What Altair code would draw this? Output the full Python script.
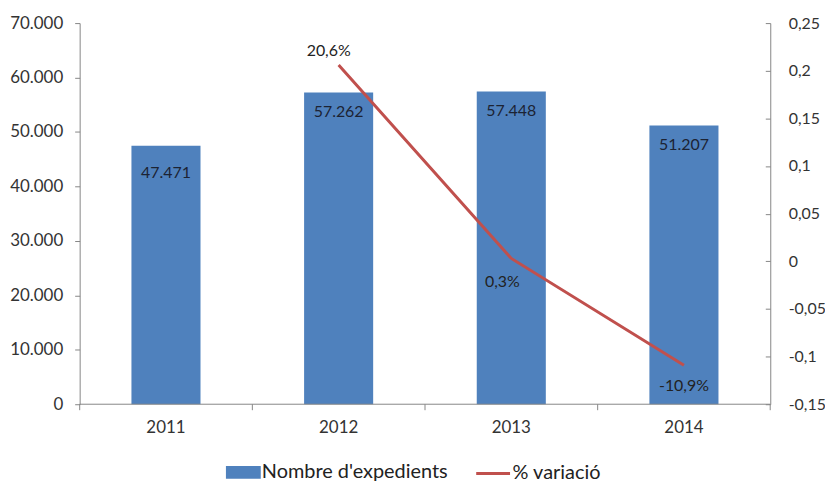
import altair as alt
import pandas as pd

years = ["2011", "2012", "2013", "2014"]
expedients = [47471, 57262, 57448, 51207]
variacio = [None, 0.206, 0.003, -0.109]
series_names = ["Nombre d'expedients", "% variació"]

bar_labels = [f"{v:,}".replace(",", ".") for v in expedients]
var_labels = ["" if v is None else f"{v*100:.1f}%".replace(".", ",") for v in variacio]

df = pd.DataFrame({"any": years, "exp": expedients, "var": variacio,
                   "exp_lbl": bar_labels, "var_lbl": var_labels,
                   "s1": [series_names[0]] * 4, "s2": [series_names[1]] * 4})

FONT = "Lato"
BLUE = "#4F81BD"
RED = "#C0504D"
AXC = "#868686"
TXT = "#333333"

W, H = 694, 383

base = alt.Chart(df)
xs = alt.Scale(paddingInner=0.6, paddingOuter=0.3)

yleft = alt.Scale(domain=[0, 70000], nice=False, zero=True)
yright = alt.Scale(domain=[-0.15, 0.25], nice=False, zero=False)

bars = base.mark_bar(color=BLUE).encode(
    x=alt.X("any:N", scale=xs, axis=None),
    y=alt.Y("exp:Q", scale=yleft,
            axis=alt.Axis(title=None, values=[0, 10000, 20000, 30000, 40000, 50000, 60000, 70000],
                          labelExpr="replace(format(datum.value, ','), ',', '.')",
                          tickSize=5, labelPadding=12, grid=False, labelFontSize=17)),
    color=alt.Color("s1:N",
                    scale=alt.Scale(domain=[series_names[0]], range=[BLUE]),
                    legend=alt.Legend(title=None, orient="none", legendX=147, legendY=434,
                                      symbolType="M-1,-0.36H1V0.36H-1Z", symbolSize=1225,
                                      symbolStrokeWidth=0, labelOffset=1, labelLimit=400)),
)

# category axis: base line, separator ticks and year labels
baseline = base.transform_filter("datum.any == '2011'").mark_rule(color=AXC, strokeWidth=1).encode(
    x=alt.value(0), x2=alt.value(W), y=alt.value(H),
)
sep_ticks = base.mark_rule(color=AXC, strokeWidth=1, xOffset=-52).encode(
    x=alt.X("any:N", scale=xs, bandPosition=0, axis=None),
    y=alt.value(H), y2=alt.value(H + 6),
)
sep_last = base.transform_filter("datum.any == '2014'").mark_rule(color=AXC, strokeWidth=1, xOffset=52).encode(
    x=alt.X("any:N", scale=xs, bandPosition=1, axis=None),
    y=alt.value(H), y2=alt.value(H + 6),
)
year_txt = base.mark_text(fontSize=17, font=FONT, color=TXT, baseline="middle", align="center").encode(
    x=alt.X("any:N", scale=xs, axis=None),
    y=alt.value(H + 24),
    text="any:N",
)

bl_common = dict(fontSize=16, font=FONT, color="#1c2333", baseline="middle", align="center")
bar_txt1 = base.transform_filter("datum.any == '2011'").mark_text(dy=27, **bl_common).encode(
    x=alt.X("any:N", scale=xs, axis=None),
    y=alt.Y("exp:Q", scale=yleft, axis=None),
    text="exp_lbl:N",
)
bar_txt2 = base.transform_filter("datum.any != '2011'").mark_text(dy=20, **bl_common).encode(
    x=alt.X("any:N", scale=xs, axis=None),
    y=alt.Y("exp:Q", scale=yleft, axis=None),
    text="exp_lbl:N",
)

line_base = base.transform_filter("isValid(datum.var)")
line = line_base.mark_line(strokeWidth=3).encode(
    x=alt.X("any:N", scale=xs, axis=None),
    y=alt.Y("var:Q", scale=yright,
            axis=alt.Axis(title=None, orient="left", offset=-W,
                          values=[-0.15, -0.1, -0.05, 0, 0.05, 0.1, 0.15, 0.2, 0.25],
                          labelExpr="replace(replace(format(datum.value, '.2~f'), '.', ','), '\u2212', '-')",
                          tickSize=5, labelPadding=-23, labelAlign="left", grid=False)),
    stroke=alt.Stroke("s2:N",
                      scale=alt.Scale(domain=[series_names[1]], range=[RED]),
                      legend=alt.Legend(title=None, orient="none", legendX=397, legendY=434,
                                        symbolType="stroke", symbolSize=1156,
                                        symbolStrokeWidth=3, labelOffset=1, labelLimit=400)),
)

ll_common = dict(fontSize=16, font=FONT, color="#222222", baseline="middle", align="center")
offsets = {"2012": (-10, -14), "2013": (-9, 24), "2014": (0, 21)}
line_txts = []
for yr, (dx, dy) in offsets.items():
    line_txts.append(
        line_base.transform_filter(f"datum.any == '{yr}'").mark_text(dx=dx, dy=dy, **ll_common).encode(
            x=alt.X("any:N", scale=xs, axis=None),
            y=alt.Y("var:Q", scale=yright, axis=None),
            text="var_lbl:N",
        )
    )

chart = alt.layer(bars, line, baseline, sep_ticks, sep_last, year_txt, bar_txt1, bar_txt2,
                  *line_txts).resolve_scale(
    y="independent"
).properties(
    width=W, height=H,
    autosize=alt.AutoSizeParams(type="none"),
    padding={"left": 72, "top": 14, "right": 55, "bottom": 78},
    background="white",
).configure_view(stroke=None).configure_axis(
    labelFont=FONT, labelFontSize=16, labelColor=TXT, domainColor=AXC, tickColor=AXC,
).configure_legend(
    labelFont=FONT, labelFontSize=20, labelColor="#222222",
)

chart.save("out.html", embed_options={"renderer": "svg", "actions": False})
